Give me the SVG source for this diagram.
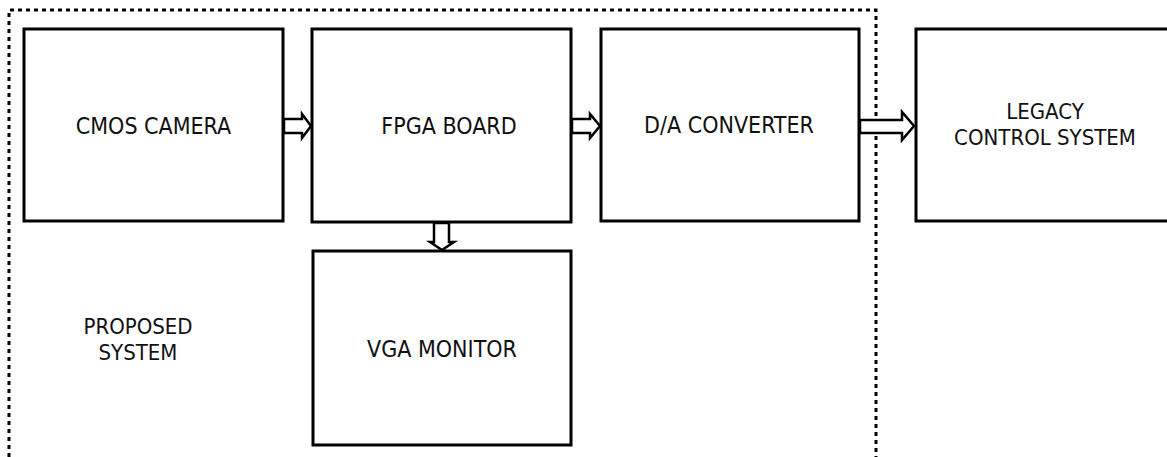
<svg xmlns="http://www.w3.org/2000/svg" width="1167" height="457" viewBox="0 0 1167 457">
<style>
.box{fill:#fff;stroke:#000;stroke-width:3}
.arrow{fill:#fff;stroke:#000;stroke-width:2.5;stroke-linejoin:miter}
.lbl{font-family:"DejaVu Sans Condensed","DejaVu Sans",sans-serif;font-size:23px;fill:#111;text-anchor:middle}
.lbl2{font-family:"DejaVu Sans Condensed","DejaVu Sans",sans-serif;font-size:22px;fill:#111;text-anchor:middle}
.border{fill:none;stroke:#000;stroke-width:3;stroke-dasharray:4 4}
</style>
<rect width="1167" height="457" fill="#fff"/>
<g id="proposed-system">
<path class="border" d="M9,457 V10 H876 V457"/>
<text class="lbl2" x="138" y="334">PROPOSED</text>
<text class="lbl2" x="138" y="360">SYSTEM</text>
</g>
<g id="cmos-camera">
<rect class="box" x="24" y="29" width="259" height="192"/>
<text class="lbl" x="153.5" y="134">CMOS CAMERA</text>
</g>
<g id="fpga-board">
<rect class="box" x="312" y="29" width="259" height="193"/>
<text class="lbl" x="449" y="134">FPGA BOARD</text>
</g>
<g id="da-converter">
<rect class="box" x="601" y="29" width="258" height="192"/>
<text class="lbl" x="729" y="133">D/A CONVERTER</text>
</g>
<g id="legacy-control-system">
<rect class="box" x="916" y="29" width="300" height="192"/>
<text class="lbl2" x="1045" y="119">LEGACY</text>
<text class="lbl2" x="1045" y="145">CONTROL SYSTEM</text>
</g>
<g id="vga-monitor">
<rect class="box" x="313" y="251" width="258" height="194"/>
<text class="lbl" x="442" y="357">VGA MONITOR</text>
</g>
<g id="connectors">
<polygon class="arrow" points="284,119 302,119 302,114 311,126 302,138 302,133 284,133"/>
<polygon class="arrow" points="572,119 590,119 590,114 600,126 590,138 590,133 572,133"/>
<polygon class="arrow" points="860,120 902,120 902,112 914,126 902,140 902,133 860,133"/>
<polygon class="arrow" points="434,223 449,223 449,242 454,242 442,250 430,242 434,242"/>
</g>
</svg>
